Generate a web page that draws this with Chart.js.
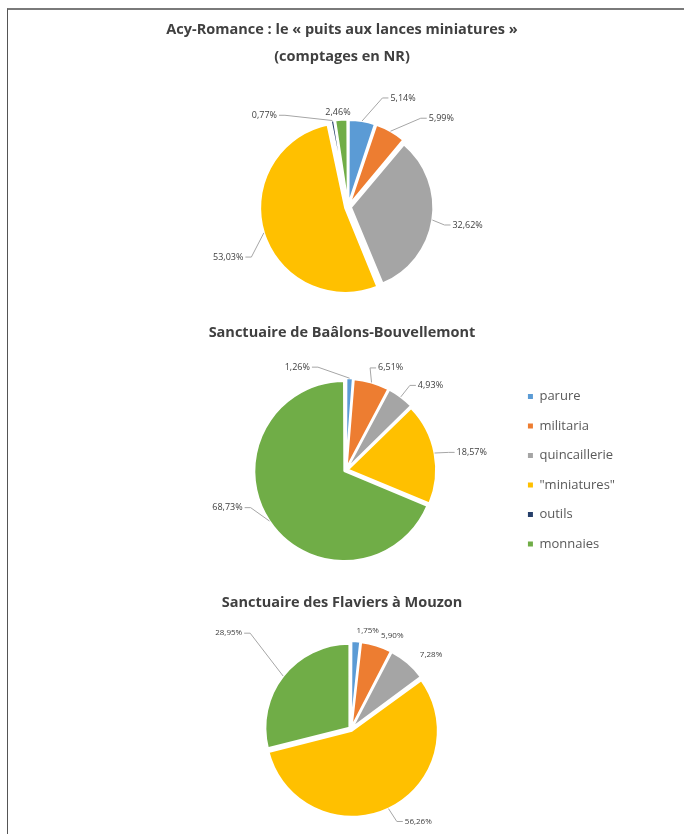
<!DOCTYPE html>
<html lang="fr">
<head>
<meta charset="UTF-8">
<title>Comptages en NR</title>
<script src="https://cdn.jsdelivr.net/npm/chart.js"></script>
<style>
    html, body { margin: 0; padding: 0; background: #fff; overflow: hidden; }
    body { width: 684px; height: 834px; position: relative; }
    .frame {
        position: absolute; left: 7px; top: 8px; right: 0; bottom: 0;
        border-top: 2px solid #7a7a7a; border-left: 1px solid #555;
    }
    canvas { position: absolute; }
</style>
</head>
<body>
<div class="frame"></div>
<canvas id="acy" width="684" height="344" style="top:0;left:0"></canvas>
<canvas id="baalons" width="566" height="284" style="top:310px;left:59px"></canvas>
<canvas id="mouzon" width="684" height="262" style="top:580px;left:0"></canvas>

<script>
    const categories = ['parure', 'militaria', 'quincaillerie', '"miniatures"', 'outils', 'monnaies'];
    const colours = ['#5b9bd5', '#ed7d31', '#a5a5a5', '#ffc000', '#263f6a', '#70ad47'];

    const acyValues = [5.14, 5.99, 32.62, 53.03, 0.77, 2.46];
    const baalonsValues = [1.26, 6.51, 4.93, 18.57, 0, 68.73];
    const mouzonValues = [1.75, 5.90, 7.28, 56.26, 0, 28.95];

    // label placement: [angle shift in degrees, distance past the rim, text side]
    const acyLabelPos = [[12, 35, 'l'], [13, 38, 'l'], [1, 24, 'l'], [-8.5, 34, 'r'], [-27.5, 34, 'r'], [-1.6, 13.5, 'c']];
    const baalonsLabelPos = [[-21.6, 21, 'r'], [1.2, 19, 'l'], [3.5, 23, 'l'], [1.8, 24, 'l'], [0, 20, 'l'], [13.7, 22, 'r']];
    const mouzonLabelPos = [[6.5, 16, 'c'], [1, 14, 'l'], [2.4, 17, 'l'], [-5, 23, 'l'], [0, 20, 'l'], [3.4, 61, 'r']];

    Chart.defaults.font.family = '"Open Sans", sans-serif';

    // puts the pie centre where wanted inside the canvas (title and legend stay put)
    const pieCentre = {
        id: 'pieCentre',
        afterLayout(chart, args, opts) {
            const a = chart.chartArea;
            const dx = opts.x - (a.left + a.right) / 2;
            const dy = opts.y - (a.top + a.bottom) / 2;
            a.left += dx; a.right += dx;
            a.top += dy; a.bottom += dy;
        }
    };

    // percentage labels with leader lines, placed from each arc's own geometry
    const sliceLabels = {
        id: 'sliceLabels',
        afterDatasetsDraw(chart, args, opts) {
            const ctx = chart.ctx;
            const meta = chart.getDatasetMeta(0);
            const values = chart.data.datasets[0].data;
            ctx.save();
            ctx.font = opts.size + 'px "Open Sans"';
            ctx.fillStyle = '#404040';
            ctx.strokeStyle = '#a6a6a6';
            ctx.lineWidth = 1;
            ctx.textBaseline = 'middle';
            meta.data.forEach((arc, i) => {
                if (!values[i]) return;
                const p = arc.getProps(['x', 'y', 'startAngle', 'endAngle', 'outerRadius', 'circumference'], true);
                const mid = (p.startAngle + p.endAngle) / 2;
                const off = (arc.options.offset || 0) / 4;
                const fix = 1 - Math.sin(Math.min(Math.PI, p.circumference));
                const rim = p.outerRadius + off + off * fix;
                const ex = p.x + Math.cos(mid) * rim;
                const ey = p.y + Math.sin(mid) * rim;

                const pos = opts.pos[i];
                const ang = mid + pos[0] * Math.PI / 180;
                const dist = p.outerRadius + pos[1];
                const lx = p.x + Math.cos(ang) * dist;
                const ly = p.y + Math.sin(ang) * dist;
                const text = values[i].toFixed(2).replace('.', ',') + '%';

                let endX = lx, endY = ly, elbowX = lx;
                if (pos[2] === 'l') { ctx.textAlign = 'left'; endX = lx - 2; elbowX = lx - 8; }
                else if (pos[2] === 'r') { ctx.textAlign = 'right'; endX = lx + 2; elbowX = lx + 8; }
                else { ctx.textAlign = 'center'; endY = ly + 6; }

                if (Math.hypot(endX - ex, endY - ey) > 14) {
                    ctx.beginPath();
                    ctx.moveTo(ex, ey);
                    ctx.lineTo(elbowX, endY);
                    ctx.lineTo(endX, endY);
                    ctx.stroke();
                }
                ctx.fillText(text, lx, ly);
            });
            ctx.restore();
        }
    };

    function makePie(id, values, title, labelPos, labelSize, radius, offset, centre, showLegend) {
        return new Chart(document.getElementById(id), {
            type: 'pie',
            data: {
                labels: categories,
                datasets: [{
                    data: values,
                    backgroundColor: colours,
                    borderColor: '#ffffff',
                    borderWidth: 2,
                    offset: offset
                }]
            },
            options: {
                responsive: false,
                animation: false,
                radius: radius,
                plugins: {
                    title: {
                        display: true,
                        text: title,
                        color: '#404040',
                        font: { size: 14.5, weight: 'bold', lineHeight: '27px' },
                        padding: { top: title.length > 1 ? 16.5 : 9.5, bottom: 0 }
                    },
                    legend: {
                        display: showLegend,
                        position: 'right',
                        fullSize: false,
                        labels: {
                            color: '#595959',
                            font: { size: 13 },
                            boxWidth: 5,
                            boxHeight: 5,
                            padding: 16.5,
                            generateLabels(chart) {
                                const items = Chart.overrides.pie.plugins.legend.labels.generateLabels(chart);
                                items.forEach(it => { it.lineWidth = 0; it.hidden = false; });
                                return items;
                            }
                        }
                    },
                    tooltip: { enabled: false },
                    pieCentre: centre,
                    sliceLabels: { pos: labelPos, size: labelSize }
                }
            },
            plugins: [pieCentre, sliceLabels]
        });
    }

    makePie('acy', acyValues,
        ['Acy-Romance : le « puits aux lances miniatures »', '(comptages en NR)'],
        acyLabelPos, 9, 82, 12, { x: 348, y: 207 }, false);
    makePie('baalons', baalonsValues,
        ['Sanctuaire de Baâlons-Bouvellemont'],
        baalonsLabelPos, 9, 88, 8, { x: 287, y: 160 }, true);
    makePie('mouzon', mouzonValues,
        ['Sanctuaire des Flaviers à Mouzon'],
        mouzonLabelPos, 8, 84, 8, { x: 351, y: 149 }, false);
</script>
</body>
</html>
